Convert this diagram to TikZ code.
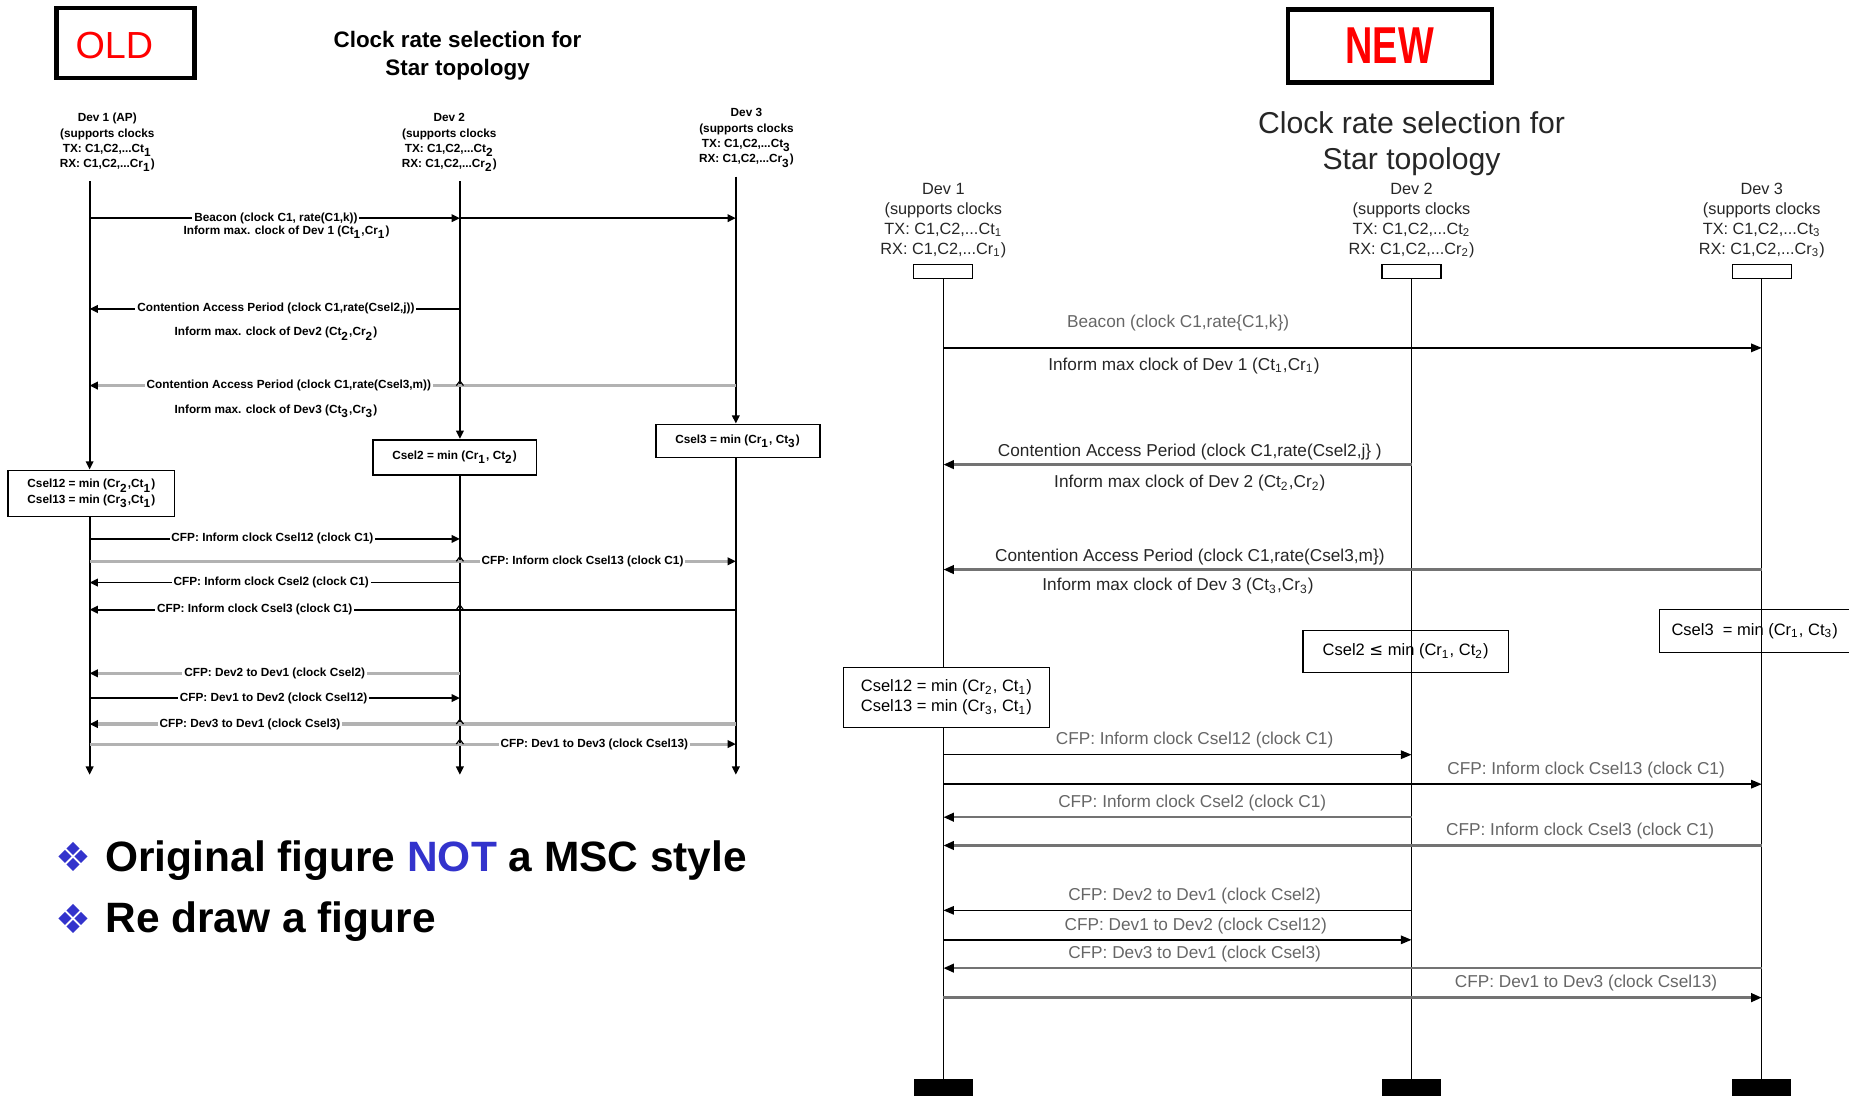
\documentclass[tikz,border=0pt]{standalone}
\usepackage{fontspec}
\setmainfont{Liberation Sans}
\newfontfamily\symfont{DejaVu Sans}
\usepackage{xcolor}
\definecolor{TagRed}   {RGB}{255, 0,  0}
\definecolor{NoteBlue} {RGB}{51,  51, 204}
\usepackage{graphicx}
\usepackage{tikz}
\usetikzlibrary{
  arrows.meta
}
\newcommand{\lowix}[1]{\textsubscript{#1}}

\begin{document}
\begin{tikzpicture}[
  x=0.5pt, y=-0.5pt,
  font=\fontsize{7.3}{8.5}\selectfont,
  tag/.style={draw, line width=1.8pt, inner sep=0pt},
  life/.style={line width=0.45pt},
  msg/.style={line width=0.6pt, -{Triangle[length=4.5pt,width=3.6pt]}},
  gmsg/.style={draw=black!55, line width=1.1pt,
    -{Triangle[length=4.5pt,width=3.6pt,color=black]}},
  lab/.style={text=black!60, inner sep=0pt},
  note/.style={text=black!85, inner sep=0pt},
  headbox/.style={draw, line width=0.5pt, minimum width=25pt,
    minimum height=6pt, inner sep=0pt},
  footbox/.style={fill=black, minimum width=25pt, minimum height=8pt,
    inner sep=0pt},
  selbox/.style={draw, line width=0.5pt, align=center, inner sep=0pt,
    font=\fontsize{7}{8.5}\selectfont},
  devhead/.style={align=center, text=black!85,
    font=\fontsize{6.9}{8.5}\selectfont},
  oldtxt/.style={font=\fontsize{5}{6.5}\selectfont\bfseries,
    align=center, inner sep=0.8pt},
  oldlab/.style={oldtxt, fill=white},
  oldlife/.style={line width=0.8pt},
  olddown/.style={oldlife, -{Triangle[length=3.5pt,width=3.2pt]}},
  oldmsg/.style={line width=0.8pt, -{Triangle[length=3.5pt,width=3.2pt]}},
  oldgray/.style={draw=black!30, line width=1.3pt,
    -{Triangle[length=3.5pt,width=3.2pt,color=black]}},
  oldbox/.style={draw, line width=0.8pt, fill=white, oldtxt}
]
\useasboundingbox (0,0) rectangle (1568,929);

% Ancienne figure
\node[tag, minimum width=58.5pt, minimum height=29.5pt] (oldtag) at (106.5,36.5) {};
\node[text=TagRed, font=\fontsize{16}{16}\selectfont, inner sep=0pt] (oldword) at (97,39) {OLD};
\node[align=center, font=\fontsize{9.5}{12}\selectfont\bfseries] (oldtitle) at (388,47)
  {Clock rate selection for\\Star topology};

\node[oldtxt] (o1) at (91,121) {Dev 1 (AP)\\(supports clocks\\TX: C1,C2,...Ct\lowix{1}\\RX: C1,C2,...Cr\lowix{1})};
\node[oldtxt] (o2) at (381,121) {Dev 2\\(supports clocks\\TX: C1,C2,...Ct\lowix{2}\\RX: C1,C2,...Cr\lowix{2})};
\node[oldtxt] (o3) at (633,117) {Dev 3\\(supports clocks\\TX: C1,C2,...Ct\lowix{3}\\RX: C1,C2,...Cr\lowix{3})};

\coordinate (l1) at (76,0);
\coordinate (l2) at (390,0);
\coordinate (l3) at (624,0);
\coordinate (e) at (0,657);

\node[oldbox, minimum width=70.5pt, minimum height=19.5pt] (ob1) at (77.5,418.5)
  {Csel12 = min (Cr\lowix{2},Ct\lowix{1})\\Csel13 = min (Cr\lowix{3},Ct\lowix{1})};
\node[oldbox, minimum width=69.5pt, minimum height=15pt] (ob2) at (385.5,388)
  {Csel2 = min (Cr\lowix{1}, Ct\lowix{2})};
\node[oldbox, minimum width=69.5pt, minimum height=14pt] (ob3) at (625.5,374)
  {Csel3 = min (Cr\lowix{1}, Ct\lowix{3})};

\foreach \i in {1,2,3} {
  \draw[olddown, shorten <=3pt] (l\i |- o\i.south) -- (l\i |- ob\i.north);
  \draw[olddown] (l\i |- ob\i.south) -- (l\i |- e);
}

\coordinate (r) at (0,185);
\draw[oldmsg] (l1 |- r) -- (l2 |- r);
\draw[oldmsg] (l2 |- r) -- (l3 |- r);
\node[oldlab] at (234,185) {Beacon (clock C1, rate(C1,k))};
\node[oldtxt] at (243,197) {Inform max. clock of Dev 1 (Ct\lowix{1},Cr\lowix{1})};

\coordinate (r) at (0,262);
\draw[oldmsg] (l2 |- r) -- (l1 |- r);
\node[oldlab] at (234,262) {Contention Access Period (clock C1,rate(Csel2,j))};
\node[oldtxt] at (234,283) {Inform max. clock of Dev2 (Ct\lowix{2},Cr\lowix{2})};

\coordinate (r) at (0,327);
\draw[oldgray] (l3 |- r) -- (l1 |- r);
\node[oldlab] at (245,327) {Contention Access Period (clock C1,rate(Csel3,m))};
\node[oldtxt] at (234,349) {Inform max. clock of Dev3 (Ct\lowix{3},Cr\lowix{3})};

\foreach \y/\src/\dst/\lx/\s/\txt in {
  457/l1/l2/231/oldmsg/{CFP: Inform clock Csel12 (clock C1)},
  476/l1/l3/494/oldgray/{CFP: Inform clock Csel13 (clock C1)},
  494/l2/l1/230/oldmsg/{CFP: Inform clock Csel2 (clock C1)},
  517/l3/l1/216/oldmsg/{CFP: Inform clock Csel3 (clock C1)},
  571/l2/l1/233/oldgray/{CFP: Dev2 to Dev1 (clock Csel2)},
  592/l1/l2/232/oldmsg/{CFP: Dev1 to Dev2 (clock Csel12)},
  614/l3/l1/212/oldgray/{CFP: Dev3 to Dev1 (clock Csel3)},
  631/l1/l3/504/oldgray/{CFP: Dev1 to Dev3 (clock Csel13)}} {
  \coordinate (r) at (0,\y);
  \draw[\s] (\src |- r) -- (\dst |- r);
  \node[oldlab] at (\lx,\y) {\txt};
}
\foreach \y in {327,476,517,614,631}
  \draw[line width=0.5pt] (387,\y) -- (390,\y-4) -- (393,\y);

% Remarques
\node[text=NoteBlue, font=\symfont\fontsize{17}{17}\selectfont, inner sep=0pt] (d1) at (62,727) {❖};
\node[text=NoteBlue, font=\symfont\fontsize{17}{17}\selectfont, inner sep=0pt] (d2) at (62,779) {❖};
\node[anchor=base west, font=\fontsize{18}{18}\selectfont\bfseries, inner sep=0pt] (b1) at (89,739)
  {Original figure \textcolor{NoteBlue}{NOT} a MSC style};
\node[anchor=base west, font=\fontsize{18}{18}\selectfont\bfseries, inner sep=0pt] (b2) at (89,791)
  {Re draw a figure};

% Nouvelle figure
\node[tag, minimum width=86.5pt, minimum height=31pt, text=TagRed] (newtag) at (1178.5,39)
  {\scalebox{0.73}[1]{\fontsize{22}{22}\selectfont\bfseries NEW}};
\node[align=center, text=black!85, font=\fontsize{12.8}{15}\selectfont] (newtitle) at (1197,122)
  {Clock rate selection for\\Star topology};

\foreach \i/\x in {1/800,2/1197,3/1494} {
  \node[devhead] (h\i) at (\x,187) {Dev \i\\(supports clocks\\TX: C1,C2,...Ct\lowix{\i}\\RX: C1,C2,...Cr\lowix{\i})};
  \node[headbox] (n\i) at (\x,230.5) {};
  \node[footbox] (f\i) at (\x,923) {};
  \draw[life] (n\i) -- (f\i);
}

\node[selbox, fill=white, minimum width=87.5pt, minimum height=25.5pt] (s1) at (802.5,591.5)
  {Csel12 = min (Cr\lowix{2}, Ct\lowix{1})\\Csel13 = min (Cr\lowix{3}, Ct\lowix{1})};
\node[selbox, minimum width=87pt, minimum height=17.5pt] (s2) at (1192,552.5)
  {Csel2 {\symfont≤} min (Cr\lowix{1}, Ct\lowix{2})};
\node[selbox, minimum width=81pt, minimum height=18pt] (s3) at (1488,535)
  {Csel3 \ = min (Cr\lowix{1}, Ct\lowix{3})};

\coordinate (r) at (0,295);
\draw[msg] (n1 |- r) -- (n3 |- r);
\node[lab] at (999,274) {Beacon (clock C1,rate\{C1,k\})};
\node[note] at (1004,310) {Inform max clock of Dev 1 (Ct\lowix{1},Cr\lowix{1})};

\coordinate (r) at (0,394);
\draw[gmsg] (n2 |- r) -- (n1 |- r);
\node[note] at (1009,383) {Contention Access Period (clock C1,rate(Csel2,j\} )};
\node[note] at (1009,410) {Inform max clock of Dev 2 (Ct\lowix{2},Cr\lowix{2})};

\coordinate (r) at (0,483);
\draw[gmsg] (n3 |- r) -- (n1 |- r);
\node[note] at (1009,472) {Contention Access Period (clock C1,rate(Csel3,m\})};
\node[note] at (999,497) {Inform max clock of Dev 3 (Ct\lowix{3},Cr\lowix{3})};

\foreach \y/\src/\dst/\lx/\s/\txt in {
  640/n1/n2/1013/msg/{CFP: Inform clock Csel12 (clock C1)},
  665/n1/n3/1345/msg/{CFP: Inform clock Csel13 (clock C1)},
  693/n2/n1/1011/gmsg/{CFP: Inform clock Csel2 (clock C1)},
  717/n3/n1/1340/gmsg/{CFP: Inform clock Csel3 (clock C1)},
  772/n2/n1/1013/msg/{CFP: Dev2 to Dev1 (clock Csel2)},
  797/n1/n2/1014/msg/{CFP: Dev1 to Dev2 (clock Csel12)},
  821/n3/n1/1013/gmsg/{CFP: Dev3 to Dev1 (clock Csel3)},
  846/n1/n3/1345/gmsg/{CFP: Dev1 to Dev3 (clock Csel13)}} {
  \coordinate (r) at (0,\y);
  \draw[\s] (\src |- r) -- (\dst |- r);
  \node[lab] at (\lx,\y-12) {\txt};
}
\end{tikzpicture}
\end{document}
